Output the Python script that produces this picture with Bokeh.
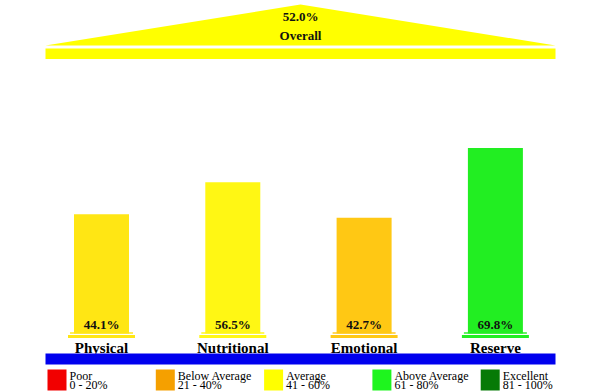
from bokeh.plotting import figure
from bokeh.models import Range1d
from bokeh.core.properties import value
from bokeh.embed import file_html
from bokeh.resources import INLINE

# ---- data ----
categories = ["Physical", "Nutritional", "Emotional", "Reserve"]
scores = [44.1, 56.5, 42.7, 69.8]
bar_colors = ["#FFE614", "#FFF714", "#FFC814", "#22EE22"]
overall_score = 52.0
overall_label = "Overall"
overall_color = "#FFFF00"
legend_names = ["Poor", "Below Average", "Average", "Above Average", "Excellent"]
legend_ranges = ["0 - 20%", "21 - 40%", "41 - 60%", "61 - 80%", "81 - 100%"]
legend_colors = ["#F20000", "#F5A000", "#FFFF00", "#1EF51E", "#067A06"]

# ---- layout (pixel-like data space) ----
W, H = 600, 391
p = figure(width=W, height=H, output_backend="svg", toolbar_location=None,
           x_range=Range1d(0, 600), y_range=Range1d(391, 0),
           min_border=0, outline_line_color=None)
p.axis.visible = False
p.grid.visible = False

FONT = value("Liberation Serif")
left, right = 45, 555

# pediment (overall)
p.patch([left, 300, right], [45, 4, 45], fill_color=overall_color, line_color=None)
p.quad(left=[left], right=[right], top=[48], bottom=[58.5], fill_color=overall_color, line_color=None)
p.text(x=[300], y=[16], text=[f"{overall_score:.1f}%"], text_font=FONT, text_font_style="bold",
       text_font_size="13px", text_align="center", text_baseline="middle", text_color="#111111")
p.text(x=[300], y=[35], text=[overall_label], text_font=FONT, text_font_style="bold",
       text_font_size="13px", text_align="center", text_baseline="middle", text_color="#111111")

# columns
zero_y = 327.0
px_per_pct = 2.57
x0, step, half = 101.0, 131.3, 27.5
xs = [x0 + i * step for i in range(len(categories))]
tops = [zero_y - v * px_per_pct for v in scores]

p.quad(left=[x - half for x in xs], right=[x + half for x in xs], top=tops,
       bottom=[333] * len(xs), fill_color=bar_colors, line_color=None)
# column bases
p.quad(left=[x - half - 4 for x in xs], right=[x + half + 4 for x in xs], top=[331.5] * len(xs),
       bottom=[333.5] * len(xs), fill_color=bar_colors, line_color=None, fill_alpha=0.7)
p.quad(left=[x - half - 6 for x in xs], right=[x + half + 6 for x in xs], top=[334.5] * len(xs),
       bottom=[337.5] * len(xs), fill_color=bar_colors, line_color=None)

p.text(x=xs, y=[324] * len(xs), text=[f"{v:.1f}%" for v in scores], text_font=FONT,
       text_font_style="bold", text_font_size="13px", text_align="center",
       text_baseline="middle", text_color="#111111")
p.text(x=xs, y=[347] * len(xs), text=categories, text_font=FONT, text_font_style="bold",
       text_font_size="15px", text_align="center", text_baseline="middle", text_color="#000000")

# floor
p.quad(left=[left], right=[right], top=[353], bottom=[364], fill_color="#0000EE", line_color=None)

# legend
lx = [47 + i * 108.3 for i in range(len(legend_names))]
p.quad(left=lx, right=[x + 19 for x in lx], top=[369] * 5, bottom=[390] * 5,
       fill_color=legend_colors, line_color=None)
p.text(x=[x + 22 for x in lx], y=[375] * 5, text=legend_names, text_font=FONT,
       text_font_size="12px", text_baseline="middle", text_color="#000000")
p.text(x=[x + 22 for x in lx], y=[384.5] * 5, text=legend_ranges, text_font=FONT,
       text_font_size="12px", text_baseline="middle", text_color="#000000")

open("out.html", "w").write(file_html(p, INLINE))
